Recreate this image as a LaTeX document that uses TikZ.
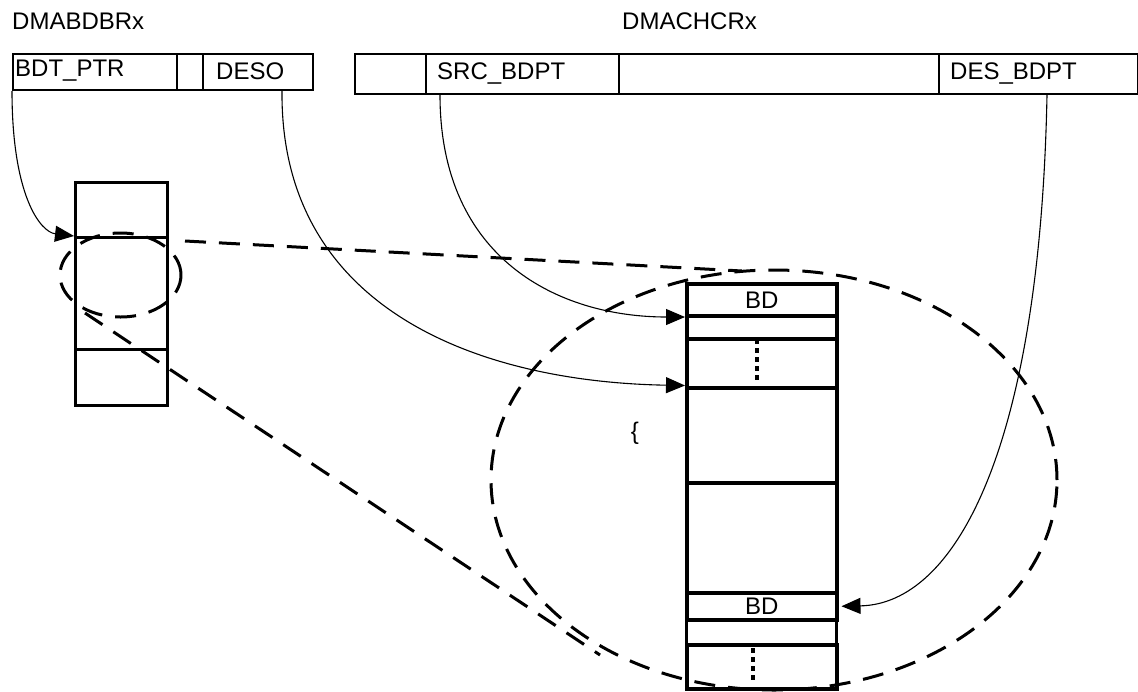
\documentclass[tikz,border=0pt]{standalone}
\usepackage{fontspec}
\setmainfont{Liberation Sans}
\usetikzlibrary{arrows.meta,shapes.geometric,calc}
\begin{document}
\begin{tikzpicture}[x=1pt,y=-1pt,
  cell/.style={draw,line width=2pt,inner sep=0,anchor=north west},
  scell/.style={draw,line width=2.5pt,inner sep=0,anchor=north west,minimum width=92},
  bcell/.style={draw,line width=3.5pt,inner sep=0,anchor=north west,minimum width=150},
  lbl/.style={font=\fontsize{24}{28}\selectfont,inner sep=0,anchor=west},
  txt/.style={font=\fontsize{24}{28}\selectfont,inner sep=0},
  ptr/.style={line width=1.1pt,-{Triangle[length=19pt,width=16pt]}},
  zoomline/.style={line width=3pt,dash pattern=on 21pt off 13pt},
  dots/.style={line width=3.5pt,dash pattern=on 5pt off 4pt}]
\useasboundingbox (0,0) rectangle (1138,691);
% titles
\node[lbl] (t1) at (12,21) {DMABDBRx};
\node[lbl] (t2) at (622,21) {DMACHCRx};
% DMABDBRx register
\node[cell,minimum width=164,minimum height=36] (bdt) at (12,53) {};
\node[cell,minimum width=26,minimum height=36] (gap) at (176,53) {};
\node[cell,minimum width=110,minimum height=36] (deso) at (202,53) {};
\node[lbl] (bdtl) at ([xshift=3pt,yshift=1pt]bdt.west) {BDT\_PTR};
\node[lbl] (desol) at ([xshift=14pt,yshift=1pt]deso.west) {DESO};
% DMACHCRx register
\node[cell,minimum width=71,minimum height=40] (c0) at (354,53) {};
\node[cell,minimum width=193,minimum height=40] (src) at (425,53) {};
\node[cell,minimum width=320,minimum height=40] (mid) at (618,53) {};
\node[cell,minimum width=199,minimum height=40] (des) at (938,53) {};
\node[lbl] (srcl) at ([xshift=12pt]src.west) {SRC\_BDPT};
\node[lbl] (desl) at ([xshift=12pt]des.west) {DES\_BDPT};
% small table
\node[scell,minimum height=55] (s1) at (74,181) {};
\node[scell,minimum height=112] (s2) at (74,236) {};
\node[scell,minimum height=56] (s3) at (74,348) {};
% big table
\node[bcell,minimum height=32] (b1) at (685,282) {};
\node[bcell,minimum height=23] (b2) at (685,314) {};
\node[bcell,minimum height=49] (b3) at (685,337) {};
\node[bcell,minimum height=95] (b4) at (685,386) {};
\node[bcell,minimum height=110] (b5) at (685,481) {};
\node[bcell,minimum height=27] (b6) at (685,591) {};
\node[bcell,line width=2.5pt,minimum height=25] (b7) at (685,618) {};
\node[bcell,minimum height=44] (b8) at (685,643) {};
\node[txt] (bd1) at (b1.center) {BD};
\node[txt] (bd2) at (b6.center) {BD};
\draw[dots] (757,339) -- (757,380);
\draw[dots] (753,648) -- (753,681);
\node[txt] (brace) at (635,433) {\{};
% zoom ellipses and lines
\node[ellipse,draw,zoomline,minimum width=121,minimum height=84,inner sep=0] (se) at (120.5,275) {};
\node[ellipse,draw,zoomline,minimum width=566,minimum height=420,inner sep=0] (be) at (774,480) {};
\coordinate (za) at (185,241);
\coordinate (zb) at (742,271);
\coordinate (zc) at (85,313);
\coordinate (zd) at (600,655);
\draw[zoomline] (za) -- (zb);
\draw[zoomline] (zc) -- (zd);
% pointers
\draw[ptr] (bdt.south west) .. controls (12,195) and (40,232) .. (s2.north west);
\draw[ptr] ([xshift=-32pt]deso.south east) .. controls (280,310) and (480,382) .. ([yshift=4pt]b3.south west);
\draw[ptr] ([xshift=15pt]src.south west) .. controls (440,260) and (560,317) .. ([yshift=-3pt]b2.north west);
\draw[ptr] ([xshift=-92pt]des.south east) .. controls (1040,450) and (955,604) .. ([xshift=3pt]b6.east);
\end{tikzpicture}
\end{document}
